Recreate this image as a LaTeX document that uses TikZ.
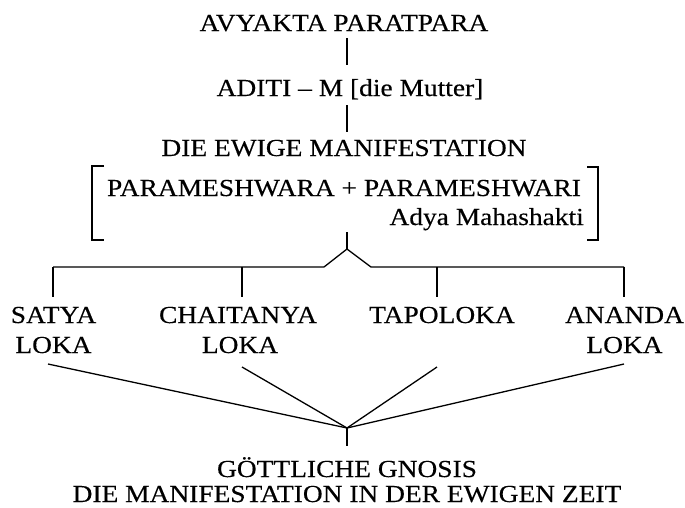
\documentclass[tikz,border=0pt]{standalone}
\usepackage{fontspec}
\setmainfont{Liberation Serif}[FakeStretch=1.12, FakeBold=0.3]
\begin{document}
\begin{tikzpicture}[x=1pt,y=-1pt,
  lbl/.style={inner sep=0pt, font=\fontsize{24.5}{30}\selectfont, anchor=base},
  ln/.style={line width=1.3pt, line join=miter}]
\useasboundingbox[fill=white] (0,0) rectangle (685,507);
% texts
\node[lbl] (avy) at (344,31) {AVYAKTA PARATPARA};
\node[lbl] (adi) at (350,96) {ADITI – M [die Mutter]};
\node[lbl] (ewi) at (344,156) {DIE EWIGE MANIFESTATION};
\node[lbl] (par) at (344,196) {PARAMESHWARA + PARAMESHWARI};
\node[lbl, anchor=base east] (ady) at (584,225) {Adya Mahashakti};
\node[lbl] (sat) at (53.5,323) {SATYA};
\node[lbl] (satl) at (53.5,353) {LOKA};
\node[lbl] (cha) at (238,323) {CHAITANYA};
\node[lbl] (chal) at (240,353) {LOKA};
\node[lbl] (tap) at (442,323) {TAPOLOKA};
\node[lbl] (ana) at (624.5,323) {ANANDA};
\node[lbl] (anal) at (624.5,353) {LOKA};
\node[lbl] (goe) at (347,477) {GÖTTLICHE GNOSIS};
\node[lbl] (zeit) at (347,502) {DIE MANIFESTATION IN DER EWIGEN ZEIT};
% junction coordinates
\coordinate (a1) at (347,38);  \coordinate (a2) at (347,65);
\coordinate (b1) at (347,105); \coordinate (b2) at (347,132);
\coordinate (c1) at (347,232); \coordinate (peak) at (347,249);
\coordinate (pl) at (324,267); \coordinate (pr) at (371,267);
\coordinate (h1) at (53,267);  \coordinate (h2) at (242,267);
\coordinate (h3) at (437,267); \coordinate (h4) at (624,267);
\coordinate (t1) at (53,297);  \coordinate (t2) at (242,297);
\coordinate (t3) at (437,297); \coordinate (t4) at (624,297);
\coordinate (u1) at (48,364);  \coordinate (u2) at (242,367);
\coordinate (u3) at (437,367); \coordinate (u4) at (624,364);
\coordinate (conv) at (347,428); \coordinate (d2) at (347,446);
% connectors
\draw[ln] (a1) -- (a2);
\draw[ln] (b1) -- (b2);
% brackets
\draw[ln] (104,166) -- (92,166) -- (92,240) -- (104,240);
\draw[ln] (587,167) -- (598,167) -- (598,240) -- (587,240);
% fork
\draw[ln] (c1) -- (peak);
\draw[ln] (h1) -- (pl) -- (peak) -- (pr) -- (h4);
\draw[ln] (h1) -- (t1);
\draw[ln] (h2) -- (t2);
\draw[ln] (h3) -- (t3);
\draw[ln] (h4) -- (t4);
% convergence
\draw[ln] (u1) -- (conv);
\draw[ln] (u2) -- (conv);
\draw[ln] (u3) -- (conv);
\draw[ln] (u4) -- (conv);
\draw[ln] (conv) -- (d2);
\end{tikzpicture}
\end{document}
